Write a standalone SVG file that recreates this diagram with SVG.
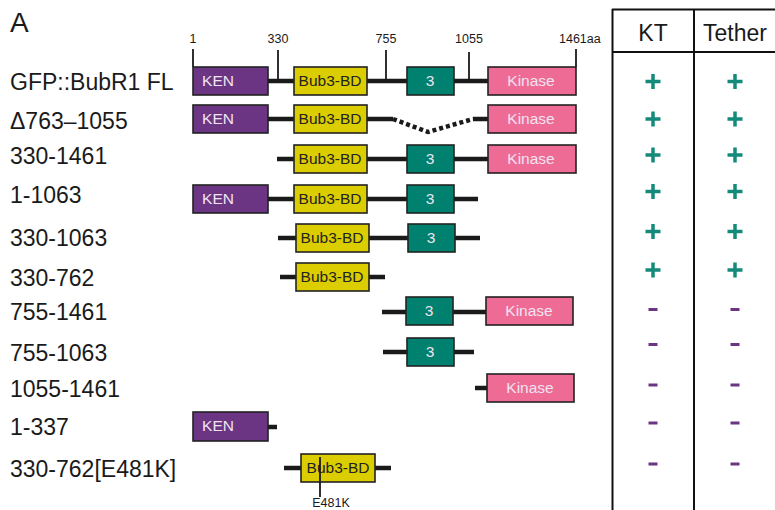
<svg xmlns="http://www.w3.org/2000/svg" width="775" height="510" viewBox="0 0 775 510">
<style>
text{font-family:"Liberation Sans",Arial,sans-serif}
.lbl{font-size:23px;fill:#1a1a1a}
.tick{font-size:12.5px;fill:#1a1a1a}
.ln{stroke:#1a1a1a;stroke-width:4.5;fill:none}
.tk{stroke:#1a1a1a;stroke-width:1.8;fill:none}
.box{stroke:#222;stroke-width:1.6}
.ken{fill:#6b3583}
.bub{fill:#dccd00}
.thr{fill:#00806f}
.kin{fill:#ee6b95}
.bt{font-size:15.5px;text-anchor:middle}
.lt{fill:#f0e4f0}
.dt{fill:#222}
.hd{font-size:23px;fill:#1a1a1a;text-anchor:middle}
.tb{stroke:#111;stroke-width:2;fill:none}
.pl{stroke:#148a7b;stroke-width:3.5}
.mi{stroke:#6b3583;stroke-width:3.2}
</style>
<rect width="775" height="510" fill="#fff"/>
<text x="10" y="32" font-size="28" fill="#1a1a1a">A</text>
<g id="scale">
<line class="tk" x1="193" y1="49" x2="193" y2="67"/>
<line class="tk" x1="278" y1="50" x2="278" y2="80"/>
<line class="tk" x1="386" y1="50" x2="386" y2="80"/>
<line class="tk" x1="469" y1="52" x2="469" y2="80"/>
<line class="tk" x1="576" y1="49" x2="576" y2="67"/>
<text class="tick" x="193" y="43" text-anchor="middle">1</text>
<text class="tick" x="278" y="43" text-anchor="middle">330</text>
<text class="tick" x="386" y="43" text-anchor="middle">755</text>
<text class="tick" x="469" y="43" text-anchor="middle">1055</text>
<text class="tick" x="559" y="43">1461aa</text>
</g>
<g id="labels">
<text class="lbl" x="10" y="90">GFP::BubR1 FL</text>
<text class="lbl" x="10" y="129">Δ763–1055</text>
<text class="lbl" x="10" y="164">330-1461</text>
<text class="lbl" x="10" y="203">1-1063</text>
<text class="lbl" x="10" y="246">330-1063</text>
<text class="lbl" x="10" y="286">330-762</text>
<text class="lbl" x="10" y="320">755-1461</text>
<text class="lbl" x="10" y="361">755-1063</text>
<text class="lbl" x="10" y="397">1055-1461</text>
<text class="lbl" x="10" y="435">1-337</text>
<text class="lbl" x="10" y="477">330-762[E481K]</text>
</g>
<g id="connectors">
<line class="ln" x1="268" y1="81" x2="488" y2="81"/>
<line class="ln" x1="268" y1="119" x2="393" y2="119"/>
<polyline points="393,119 428,132 473,119" fill="none" stroke="#1a1a1a" stroke-width="4.5" stroke-dasharray="4,3"/>
<line class="ln" x1="473" y1="119" x2="488" y2="119"/>
<line class="ln" x1="277" y1="159" x2="488" y2="159"/>
<line class="ln" x1="268" y1="199" x2="478" y2="199"/>
<line class="ln" x1="278" y1="238" x2="480" y2="238"/>
<line class="ln" x1="280" y1="277" x2="385" y2="277"/>
<line class="ln" x1="382" y1="312" x2="486" y2="312"/>
<line class="ln" x1="383" y1="352" x2="474" y2="352"/>
<line class="ln" x1="475" y1="388" x2="487" y2="388"/>
<line class="ln" x1="268" y1="427" x2="277" y2="427"/>
<line class="ln" x1="284" y1="468" x2="391" y2="468"/>
</g>
<g id="row1">
<rect class="box ken" x="193" y="67" width="75" height="28"/><text class="bt lt" x="218" y="86">KEN</text>
<rect class="box bub" x="294" y="67" width="73" height="28"/><text class="bt dt" x="330" y="86">Bub3-BD</text>
<rect class="box thr" x="407" y="67" width="47" height="28"/><text class="bt lt" x="430" y="86">3</text>
<rect class="box kin" x="488" y="67" width="88" height="28"/><text class="bt lt" x="531" y="86">Kinase</text>
</g>
<g id="row2">
<rect class="box ken" x="193" y="105" width="75" height="28"/><text class="bt lt" x="218" y="124">KEN</text>
<rect class="box bub" x="294" y="105" width="73" height="28"/><text class="bt dt" x="330" y="124">Bub3-BD</text>
<rect class="box kin" x="488" y="105" width="88" height="28"/><text class="bt lt" x="531" y="124">Kinase</text>
</g>
<g id="row3">
<rect class="box bub" x="294" y="145" width="73" height="28"/><text class="bt dt" x="330" y="164">Bub3-BD</text>
<rect class="box thr" x="407" y="145" width="47" height="28"/><text class="bt lt" x="430" y="164">3</text>
<rect class="box kin" x="488" y="145" width="88" height="28"/><text class="bt lt" x="531" y="164">Kinase</text>
</g>
<g id="row4">
<rect class="box ken" x="193" y="185" width="75" height="28"/><text class="bt lt" x="218" y="204">KEN</text>
<rect class="box bub" x="294" y="185" width="73" height="28"/><text class="bt dt" x="330" y="204">Bub3-BD</text>
<rect class="box thr" x="407" y="185" width="47" height="28"/><text class="bt lt" x="430" y="204">3</text>
</g>
<g id="row5">
<rect class="box bub" x="296" y="224" width="73" height="28"/><text class="bt dt" x="332" y="243">Bub3-BD</text>
<rect class="box thr" x="408" y="224" width="47" height="28"/><text class="bt lt" x="431" y="243">3</text>
</g>
<g id="row6">
<rect class="box bub" x="296" y="263" width="73" height="28"/><text class="bt dt" x="332" y="282">Bub3-BD</text>
</g>
<g id="row7">
<rect class="box thr" x="406" y="297" width="47" height="28"/><text class="bt lt" x="429" y="316">3</text>
<rect class="box kin" x="486" y="297" width="87" height="28"/><text class="bt lt" x="529" y="316">Kinase</text>
</g>
<g id="row8">
<rect class="box thr" x="407" y="338" width="47" height="28"/><text class="bt lt" x="430" y="357">3</text>
</g>
<g id="row9">
<rect class="box kin" x="487" y="374" width="87" height="28"/><text class="bt lt" x="530" y="393">Kinase</text>
</g>
<g id="row10">
<rect class="box ken" x="193" y="412" width="75" height="29"/><text class="bt lt" x="218" y="431">KEN</text>
</g>
<g id="row11">
<rect class="box bub" x="301" y="454" width="74" height="28"/><text class="bt dt" x="338" y="473">Bub3-BD</text>
<line class="tk" x1="320" y1="457" x2="320" y2="497"/>
<text class="tick" x="331" y="507" text-anchor="middle">E481K</text>
</g>
<g id="table">
<line class="tb" x1="612" y1="9.5" x2="775" y2="9.5"/>
<line class="tb" x1="612" y1="52" x2="775" y2="52"/>
<line class="tb" x1="612.5" y1="9" x2="612.5" y2="510"/>
<line class="tb" x1="694" y1="9" x2="694" y2="510"/>
<text class="hd" x="653" y="41">KT</text>
<text class="hd" x="735" y="41">Tether</text>
</g>
<g id="results">
<path class="pl" d="M645.5,81.5h15M653,74v15M727.5,81.5h15M735,74v15"/>
<path class="pl" d="M645.5,119h15M653,111.5v15M727.5,119h15M735,111.5v15"/>
<path class="pl" d="M645.5,155h15M653,147.5v15M727.5,155h15M735,147.5v15"/>
<path class="pl" d="M645.5,191.5h15M653,184v15M727.5,191.5h15M735,184v15"/>
<path class="pl" d="M645.5,231.5h15M653,224v15M727.5,231.5h15M735,224v15"/>
<path class="pl" d="M645.5,270h15M653,262.5v15M727.5,270h15M735,262.5v15"/>
<path class="mi" d="M648.5,309.5h9M730.5,309.5h9"/>
<path class="mi" d="M648.5,344.5h9M730.5,344.5h9"/>
<path class="mi" d="M648.5,385h9M730.5,385h9"/>
<path class="mi" d="M648.5,423h9M730.5,423h9"/>
<path class="mi" d="M648.5,464h9M730.5,464h9"/>
</g>
</svg>
